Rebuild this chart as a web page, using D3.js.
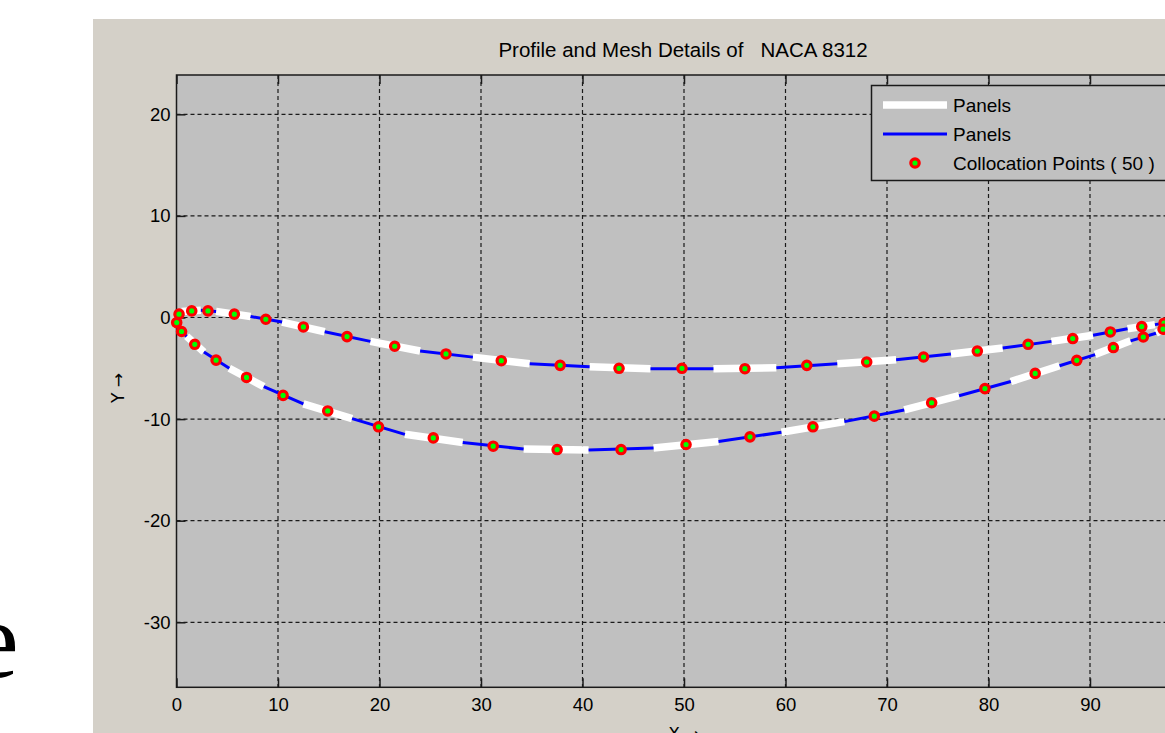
<!DOCTYPE html>
<html><head><meta charset="utf-8">
<script src="https://cdn.jsdelivr.net/npm/d3@7/dist/d3.min.js"></script>
<style>html,body{margin:0;padding:0;background:#fff;overflow:hidden}</style>
</head><body>
<svg id="c" width="1165" height="733"></svg>
<script>
// ---- data ----
const titleText = "Profile and Mesh Details of   NACA 8312";
const xTicks = [0,10,20,30,40,50,60,70,80,90,100];
const yTicks = [-30,-20,-10,0,10,20];
// panel nodes, leading edge -> trailing edge
const upperNodeX = [0,0.5,2.4,3.9,7.3,10.4,14.6,19.1,24.0,29.2,34.8,40.7,46.7,52.9,59.1,65.1,70.9,76.3,81.4,86.2,90.3,93.7,96.4,98.2,99.5,100];
const upperNodeY = [0,0.6,0.72,0.6,0.1,-0.45,-1.4,-2.35,-3.3,-3.9,-4.55,-4.85,-5.05,-5.05,-4.95,-4.55,-4.15,-3.6,-3.0,-2.35,-1.75,-1.1,-0.7,-0.4,-0.2,-0.1];
const lowerNodeX = [0,0.05,1.0,2.7,5.2,8.6,12.5,17.3,22.5,28.2,34.2,40.6,47.0,53.4,59.6,65.8,71.7,77.1,82.2,87.0,90.5,94.0,96.5,97.9,99.3,100];
const lowerNodeY = [0,-1.0,-1.85,-3.4,-5.0,-6.8,-8.5,-9.95,-11.5,-12.3,-12.95,-13.05,-12.85,-12.2,-11.3,-10.25,-9.1,-7.7,-6.3,-4.75,-3.65,-2.3,-1.55,-0.8,-0.35,-0.1];
// collocation points
const upperColX = [0.25,1.5,3.1,5.7,8.8,12.5,16.8,21.5,26.55,32.0,37.8,43.6,49.8,56.0,62.1,68.0,73.6,78.9,83.9,88.3,92.0,95.1,97.3,98.85,99.75];
const upperColY = [0.33,0.65,0.65,0.33,-0.17,-0.93,-1.88,-2.83,-3.59,-4.25,-4.71,-5.0,-5.0,-5.04,-4.71,-4.38,-3.89,-3.3,-2.64,-2.07,-1.42,-0.89,-0.56,-0.3,-0.15];
const lowerColX = [0.02,0.5,1.8,3.9,6.9,10.5,14.9,19.9,25.3,31.2,37.5,43.8,50.2,56.5,62.7,68.75,74.4,79.65,84.6,88.7,92.3,95.25,97.2,98.6,99.65];
const lowerColY = [-0.5,-1.38,-2.64,-4.2,-5.9,-7.67,-9.2,-10.76,-11.85,-12.67,-13.0,-13.0,-12.5,-11.75,-10.76,-9.71,-8.39,-7.0,-5.5,-4.22,-2.96,-1.92,-1.15,-0.58,-0.22];
const legendLabels = ["Panels","Panels","Collocation Points ( 50 )"];

// ---- layout ----
const svg = d3.select("#c");
const L = 176.5, R = 1191.5, T = 75, B = 687.3;
const x = d3.scaleLinear().domain([0,100]).range([L,R]);
const y = d3.scaleLinear().domain([-36.4,23.87]).range([B,T]);
const font = "'Liberation Sans', Arial, sans-serif";
const axCol = "#1a1a1a";

svg.append("rect").attr("x",0).attr("y",0).attr("width",1165).attr("height",733).attr("fill","#fff");
svg.append("rect").attr("x",93).attr("y",19).attr("width",1200).attr("height",800).attr("fill","#d4d0c8");
svg.append("rect").attr("x",L).attr("y",T).attr("width",R-L).attr("height",B-T).attr("fill","#c0c0c0");

// big serif letter on the left edge
svg.append("text").attr("x",-30).attr("y",677).attr("font-family","'Liberation Serif','Times New Roman',serif")
  .attr("font-size",110).attr("fill","#000").text("e");

// grid
const g = svg.append("g");
g.selectAll(".gx").data(xTicks.filter(d=>d>0 && d<100)).join("line")
  .attr("x1",d=>x(d)).attr("x2",d=>x(d)).attr("y1",T).attr("y2",B)
  .attr("stroke",axCol).attr("stroke-width",1.2).attr("stroke-dasharray","4,3");
g.selectAll(".gy").data(yTicks).join("line")
  .attr("x1",L).attr("x2",R).attr("y1",d=>y(d)).attr("y2",d=>y(d))
  .attr("stroke",axCol).attr("stroke-width",1.2).attr("stroke-dasharray","4,3");

// axes via d3 axis (ticks inward)
const fmt = d => String(d);
const xAxisB = d3.axisBottom(x).tickValues(xTicks).tickSize(-9).tickPadding(11).tickFormat(fmt);
const xAxisT = d3.axisTop(x).tickValues(xTicks).tickSize(-9).tickFormat("");
const yAxisL = d3.axisLeft(y).tickValues(yTicks).tickSize(-9).tickPadding(6).tickFormat(fmt);
const yAxisR = d3.axisRight(y).tickValues(yTicks).tickSize(-9).tickFormat("");
function style(sel){
  sel.select(".domain").remove();
  sel.selectAll("line").attr("stroke",axCol).attr("stroke-width",1.5);
  sel.selectAll("text").attr("fill","#000").attr("font-family",font).attr("font-size",18.5);
}
svg.append("g").attr("transform",`translate(0,${B})`).call(xAxisB).call(style);
svg.append("g").attr("transform",`translate(0,${T})`).call(xAxisT).call(style);
svg.append("g").attr("transform",`translate(${L},0)`).call(yAxisL).call(style);
svg.append("g").attr("transform",`translate(${R},0)`).call(yAxisR).call(style);

// box
svg.append("rect").attr("x",L).attr("y",T).attr("width",R-L).attr("height",B-T)
  .attr("fill","none").attr("stroke",axCol).attr("stroke-width",1.5);

// panels
function panels(nx, ny, whiteOdd){
  const segs = [];
  for(let k=1;k<nx.length;k++){
    segs.push({x1:nx[k-1],y1:ny[k-1],x2:nx[k],y2:ny[k],white: whiteOdd ? (k%2===1) : (k%2===0)});
  }
  return segs;
}
const segs = panels(lowerNodeX, lowerNodeY, true).concat(panels(upperNodeX, upperNodeY, false));
const pg = svg.append("g");
pg.selectAll("line.w").data(segs.filter(s=>s.white)).join("line")
  .attr("x1",d=>x(d.x1)).attr("y1",d=>y(d.y1)).attr("x2",d=>x(d.x2)).attr("y2",d=>y(d.y2))
  .attr("stroke","#ffffff").attr("stroke-width",7.5).attr("stroke-linecap","butt");
pg.selectAll("line.b").data(segs.filter(s=>!s.white)).join("line")
  .attr("x1",d=>x(d.x1)).attr("y1",d=>y(d.y1)).attr("x2",d=>x(d.x2)).attr("y2",d=>y(d.y2))
  .attr("stroke","#0000ff").attr("stroke-width",3).attr("stroke-linecap","butt");

// collocation points
const pts = upperColX.map((v,i)=>({x:v,y:upperColY[i]})).concat(lowerColX.map((v,i)=>({x:v,y:lowerColY[i]})));
svg.append("g").selectAll("circle").data(pts).join("circle")
  .attr("cx",d=>x(d.x)).attr("cy",d=>y(d.y)).attr("r",4.2)
  .attr("fill","#00ff00").attr("stroke","#ff0000").attr("stroke-width",3.2);

// title and labels
svg.append("text").attr("x",(L+R)/2 - 1).attr("y",57).attr("text-anchor","middle")
  .attr("font-family",font).attr("font-size",20.5).attr("fill","#000")
  .style("white-space","pre").attr("xml:space","preserve").text(titleText);
svg.append("text").attr("transform",`translate(124,${388}) rotate(-90)`).attr("text-anchor","middle")
  .attr("font-family","'DejaVu Sans', sans-serif").attr("font-size",17).attr("fill","#000").text("Y \u2192");
svg.append("text").attr("x",(L+R)/2).attr("y",740).attr("text-anchor","middle")
  .attr("font-family","'DejaVu Sans', sans-serif").attr("font-size",17).attr("fill","#000").text("X \u2192");

// legend
const lg = svg.append("g");
lg.append("rect").attr("x",871.5).attr("y",85.5).attr("width",400).attr("height",95)
  .attr("fill","#c0c0c0").attr("stroke",axCol).attr("stroke-width",1.5);
const rowsY = [105,134,163];
lg.append("line").attr("x1",883).attr("x2",947).attr("y1",rowsY[0]).attr("y2",rowsY[0]).attr("stroke","#fff").attr("stroke-width",7.5);
lg.append("line").attr("x1",883).attr("x2",947).attr("y1",rowsY[1]).attr("y2",rowsY[1]).attr("stroke","#0000ff").attr("stroke-width",3);
lg.append("circle").attr("cx",915).attr("cy",rowsY[2]).attr("r",4.2).attr("fill","#00ff00").attr("stroke","#ff0000").attr("stroke-width",3.2);
lg.selectAll("text").data(legendLabels).join("text")
  .attr("x",953).attr("y",(d,i)=>rowsY[i]+6.5)
  .attr("font-family",font).attr("font-size",19).attr("fill","#000").text(d=>d);
</script>
</body></html>
